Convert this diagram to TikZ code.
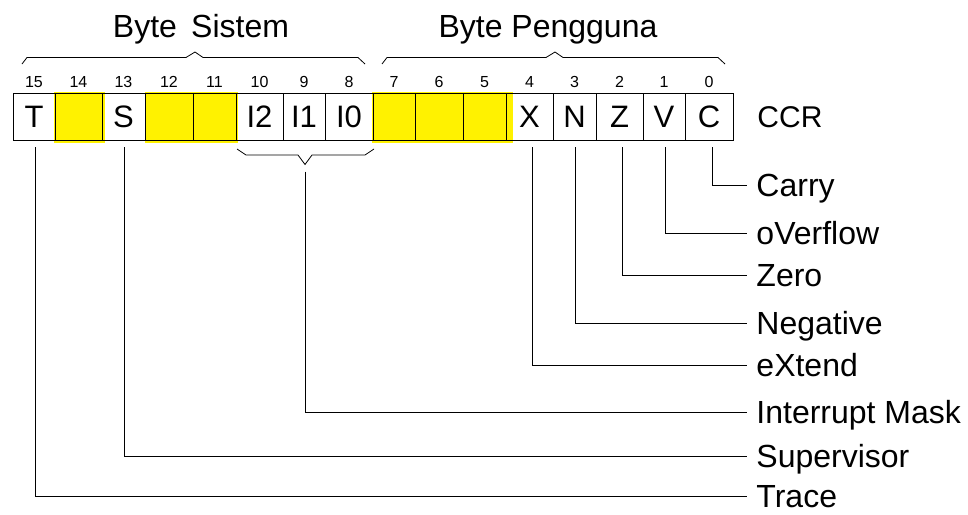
\documentclass[tikz,border=0pt]{standalone}
\usepackage{fontspec}
\setmainfont{Liberation Sans}
\definecolor{bityellow}{RGB}{255,242,0}
\begin{document}
\begin{tikzpicture}[x=1pt,y=-1pt,
  line width=0.9pt,
  cell/.style={draw, inner sep=0pt, minimum height=47pt, text height=22pt, text depth=0pt,
               font=\fontsize{31}{31}\selectfont},
  bitno/.style={anchor=base, inner sep=0pt, font=\fontsize{16}{16}\selectfont},
  title/.style={anchor=base, inner sep=0pt, font=\fontsize{32}{32}\selectfont},
  flag/.style={anchor=west, inner sep=0pt, text height=23pt, text depth=0pt,
               font=\fontsize{32}{32}\selectfont},
  lead/.style={line width=0.9pt},
  bracket/.style={line width=0.8pt, line join=miter}]
\useasboundingbox (0,0) rectangle (968,514);

% unused bits shaded yellow
\fill[bityellow] (54,92) rectangle (105,143);
\fill[bityellow] (145,92) rectangle (238,143);
\fill[bityellow] (372,92) rectangle (513,143);

% the sixteen cells of the status register
\foreach \bit/\l/\r/\txt in {15/13/55/T, 14/55/102/{}, 13/102/145/S, 12/145/193/{},
  11/193/236/{}, 10/236/283/I2, 9/283/325/I1, 8/325/373/I0, 7/373/415/{},
  6/415/463/{}, 5/463/506/{}, 4/506/553/X, 3/553/596/N, 2/596/643/Z,
  1/643/685/V, 0/685/733/C} {
  \pgfmathsetmacro\w{\r-\l}
  \pgfmathsetmacro\cx{(\l+\r)/2}
  \node[cell, minimum width=\w pt] (c\bit) at (\cx,116.5) {\txt};
  \node[bitno] (n\bit) at (\cx,87) {\bit};
}
\node[anchor=base west, inner sep=0pt, font=\fontsize{30}{30}\selectfont] (ccr) at (757,127) {CCR};

% byte titles and their brackets
\node[title] (sys) at (201,37) {Byte\,\ Sistem};
\node[title] (usr) at (548,37) {Byte Pengguna};
\draw[bracket] (22,64) -- (27,57.5) -- (186,57.5) -- (195,52) -- (203,57.5) -- (358,57.5) -- (365,64);
\draw[bracket] (382,64) -- (387,57.5) -- (546,57.5) -- (555,52) -- (563,57.5) -- (718,57.5) -- (725,64);

% bracket under the interrupt mask bits
\draw[bracket] (237,149) -- (246,155) -- (298,155) -- (305,164.5) coordinate (imtip)
  -- (312,155) -- (365,155) -- (374,149);

% flag names
\node[flag] (carry) at (756,185) {Carry};
\node[flag] (ovf)   at (756,233) {oVerflow};
\node[flag] (zero)  at (756,275) {Zero};
\node[flag] (neg)   at (756,323) {Negative};
\node[flag] (ext)   at (756,365) {eXtend};
\node[flag] (imask) at (756,412) {Interrupt Mask};
\node[flag] (sup)   at (756,456) {Supervisor};
\node[flag] (trace) at (756,496) {Trace};

% leader lines from bits to names
\draw[lead] ([xshift=3pt,yshift=-7pt]c0.south) |- ([xshift=-9pt]carry.west);
\draw[lead] ([xshift=1pt,yshift=-7pt]c1.south) |- ([xshift=-9pt]ovf.west);
\draw[lead] ([xshift=3pt,yshift=-7pt]c2.south) |- ([xshift=-9pt]zero.west);
\draw[lead] ([xshift=1pt,yshift=-7pt]c3.south) |- ([xshift=-9pt]neg.west);
\draw[lead] ([xshift=3pt,yshift=-7pt]c4.south) |- ([xshift=-9pt]ext.west);
\draw[lead] (imtip) ++(0,7) |- ([xshift=-9pt]imask.west);
\draw[lead] ([xshift=1pt,yshift=-7pt]c13.south) |- ([xshift=-9pt]sup.west);
\draw[lead] ([xshift=1pt,yshift=-7pt]c15.south) |- ([xshift=-9pt]trace.west);
\end{tikzpicture}
\end{document}
